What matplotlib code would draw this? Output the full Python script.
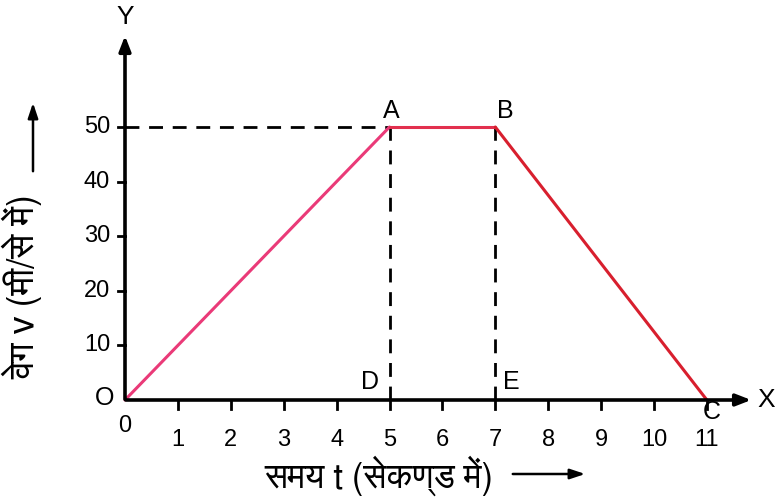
import matplotlib
matplotlib.use("Agg")
import matplotlib.pyplot as plt

# ---- data ----
t_points = [0, 5, 7, 11]
v_points = [0, 50, 50, 0]
point_labels = ["O", "A", "B", "C"]
x_ticks = [0, 1, 2, 3, 4, 5, 6, 7, 8, 9, 10, 11]
y_ticks = [10, 20, 30, 40, 50]
foot_labels = ["D", "E"]
foot_t = [5, 7]
x_label = "समय t (सेकण्ड में)"
y_label = "वेग v (मी/से में)"

deva = ["FreeSans", "DejaVu Sans"]
latin = ["Liberation Sans Narrow", "Liberation Sans", "DejaVu Sans"]
plt.rcParams['font.family'] = latin

fig = plt.figure(figsize=(7.76, 4.99), dpi=100)
ax = fig.add_axes([0, 0, 1, 1])
ax.axis('off')

# pixel mapping: x px = x0 + sx*t ; y row = y0 - sy*v
sx, x0 = 52.9, 125.0
sy, y0 = 5.46, 400.0
ax.set_xlim(-x0 / sx, (776 - x0) / sx)
ax.set_ylim((y0 - 499) / sy, y0 / sy)

def dx(px):
    return px / sx
def dy(px):
    return px / sy
def px2x(p):
    return (p - x0) / sx
def row2y(r):
    return (y0 - r) / sy

# axes with arrows
ax.annotate("", xy=(px2x(754), 0), xytext=(-dx(2), 0),
            arrowprops=dict(arrowstyle="-|>,head_length=0.9,head_width=0.35", color="black", lw=2.6))
ax.annotate("", xy=(0, row2y(33)), xytext=(0, -dy(2)),
            arrowprops=dict(arrowstyle="-|>,head_length=0.9,head_width=0.35", color="black", lw=2.6))

# ticks
for t in x_ticks[1:]:
    ax.plot([t, t], [0, -dy(9)], color="black", lw=2)
for v in y_ticks:
    ax.plot([-dx(7), 0], [v, v], color="black", lw=2)

# tick labels
for t in x_ticks:
    yoff = -dy(26) if t == 0 else -dy(40)
    ax.text(t, yoff, str(t), ha="center", va="center", fontsize=17)
for v in y_ticks:
    ax.text(-dx(15), v, str(v), ha="right", va="center", fontsize=17)

# dashed guides
ax.plot([0, t_points[1]], [v_points[1], v_points[1]], color="black", lw=2, ls=(0, (5, 3.5)))
for ft, fv in zip(foot_t, [v_points[1], v_points[2]]):
    ax.plot([ft, ft], [0, fv], color="black", lw=2, ls=(0, (5, 3.5)))

# the graph
seg_colors = ["#ea3a78", "#e2304e", "#d81f2e"]
for i in range(len(t_points) - 1):
    ax.plot(t_points[i:i + 2], v_points[i:i + 2], color=seg_colors[i], lw=2.2, solid_capstyle="round")

# point labels
offsets = [(-20, 2), (2, 16), (10, 16), (5, -12)]
for lab, t, v, (ox, oy) in zip(point_labels, t_points, v_points, offsets):
    ax.text(t + dx(ox), v + dy(oy), lab, ha="center", va="center", fontsize=18)
ax.text(foot_t[0] - dx(20), dy(18), foot_labels[0], ha="center", va="center", fontsize=18)
ax.text(foot_t[1] + dx(16), dy(18), foot_labels[1], ha="center", va="center", fontsize=18)

ax.text(px2x(766), 0, "X", ha="center", va="center", fontsize=19)
ax.text(0, row2y(17), "Y", ha="center", va="center", fontsize=19)

# axis titles
ax.text(px2x(264), row2y(476), x_label, ha="left", va="center", fontsize=25, family=deva)
ax.annotate("", xy=(px2x(588), row2y(474)), xytext=(px2x(510), row2y(474)),
            arrowprops=dict(arrowstyle="-|>,head_length=0.9,head_width=0.3", color="black", lw=1.8))
ax.text(px2x(22), row2y(287), y_label, ha="center", va="center", fontsize=26,
        rotation=90, family=deva)
ax.annotate("", xy=(px2x(33), row2y(100)), xytext=(px2x(33), row2y(174)),
            arrowprops=dict(arrowstyle="-|>,head_length=0.9,head_width=0.3", color="black", lw=1.8))

fig.savefig("out.png", dpi=100, facecolor="white")
